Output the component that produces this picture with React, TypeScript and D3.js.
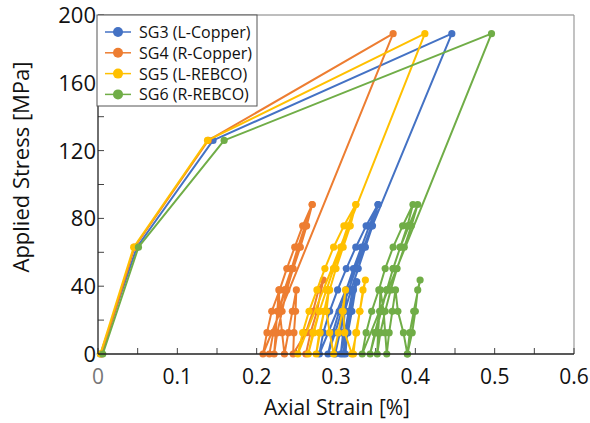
import React from "react";
import * as d3 from "d3";

const W = 590;
const H = 423;

const seriesNames = ["SG3 (L-Copper)", "SG4 (R-Copper)", "SG5 (L-REBCO)", "SG6 (R-REBCO)"];
const seriesColors = ["#4472C4", "#ED7D31", "#FFC000", "#70AD47"];

const xTicks = [0, 0.1, 0.2, 0.3, 0.4, 0.5, 0.6];
const yTicks = [0, 40, 80, 120, 160, 200];

// SG3 (L-Copper)
const sg3Strain = [0.003, 0.049, 0.145, 0.446, 0.279,
  0.284, 0.292, 0.302, 0.313, 0.325, 0.338, 0.353,
  0.345, 0.335, 0.325, 0.316, 0.307, 0.299, 0.290,
  0.296, 0.304, 0.313, 0.322, 0.332, 0.342, 0.353,
  0.346, 0.337, 0.328, 0.319, 0.311, 0.305, 0.299,
  0.304, 0.309, 0.314, 0.311, 0.309, 0.306,
  0.311, 0.316, 0.321, 0.326, 0.320, 0.315, 0.309,
  0.313, 0.318, 0.322, 0.326, 0.318, 0.314, 0.312];
const sg3Stress = [0, 63, 126, 189, 0,
  12.6, 25.2, 37.8, 50.4, 63, 75.6, 88.2,
  75.6, 63, 50.4, 37.8, 25.2, 12.6, 0,
  12.6, 25.2, 37.8, 50.4, 63, 75.6, 88.2,
  75.6, 63, 50.4, 37.8, 25.2, 12.6, 0,
  12.6, 25.2, 37.8, 25.2, 12.6, 0,
  12.6, 25.2, 37.8, 42.5, 25.2, 12.6, 0,
  12.6, 25.2, 37.8, 42.5, 25.2, 12.6, 0];

// SG4 (R-Copper)
const sg4Strain = [0.005, 0.046, 0.139, 0.372, 0.208,
  0.213, 0.219, 0.229, 0.238, 0.248, 0.258, 0.270,
  0.262, 0.253, 0.244, 0.235, 0.228, 0.221, 0.216,
  0.221, 0.228, 0.236, 0.244, 0.252, 0.261, 0.270,
  0.263, 0.255, 0.246, 0.238, 0.232, 0.226, 0.222,
  0.224, 0.226, 0.228, 0.229, 0.232, 0.235,
  0.240, 0.245, 0.250, 0.249, 0.247, 0.246,
  0.262, 0.271, 0.278, 0.284, 0.276, 0.268, 0.262];
const sg4Stress = [0, 63, 126, 189, 0,
  12.6, 25.2, 37.8, 50.4, 63, 75.6, 88.2,
  75.6, 63, 50.4, 37.8, 25.2, 12.6, 0,
  12.6, 25.2, 37.8, 50.4, 63, 75.6, 88.2,
  75.6, 63, 50.4, 37.8, 25.2, 12.6, 0,
  12.6, 25.2, 37.8, 25.2, 12.6, 0,
  12.6, 25.2, 37.8, 25.2, 12.6, 0,
  12.6, 25.2, 37.8, 43.6, 25.2, 12.6, 0];

// SG5 (L-REBCO)
const sg5Strain = [0.003, 0.045, 0.138, 0.412, 0.252,
  0.258, 0.266, 0.276, 0.286, 0.297, 0.310, 0.325,
  0.317, 0.307, 0.297, 0.288, 0.279, 0.272, 0.265,
  0.271, 0.279, 0.288, 0.297, 0.306, 0.315, 0.325,
  0.318, 0.309, 0.300, 0.292, 0.285, 0.279, 0.275,
  0.280, 0.285, 0.291, 0.288, 0.292, 0.297,
  0.303, 0.308, 0.312, 0.309, 0.311, 0.320,
  0.326, 0.330, 0.334, 0.337, 0.330, 0.325, 0.322];
const sg5Stress = [0, 63, 126, 189, 0,
  12.6, 25.2, 37.8, 50.4, 63, 75.6, 88.2,
  75.6, 63, 50.4, 37.8, 25.2, 12.6, 0,
  12.6, 25.2, 37.8, 50.4, 63, 75.6, 88.2,
  75.6, 63, 50.4, 37.8, 25.2, 12.6, 0,
  12.6, 25.2, 37.8, 25.2, 12.6, 0,
  12.6, 25.2, 37.8, 25.2, 12.6, 0,
  12.6, 25.2, 37.8, 43.6, 25.2, 12.6, 0];

// SG6 (R-REBCO)
const sg6Strain = [0.006, 0.051, 0.159, 0.496, 0.333,
  0.338, 0.345, 0.354, 0.362, 0.372, 0.384, 0.397,
  0.390, 0.381, 0.372, 0.364, 0.357, 0.350, 0.343,
  0.349, 0.356, 0.364, 0.372, 0.381, 0.392, 0.403,
  0.395, 0.386, 0.377, 0.369, 0.362, 0.356, 0.352,
  0.353, 0.355, 0.356, 0.360, 0.362, 0.364,
  0.367, 0.371, 0.375, 0.378, 0.385, 0.390,
  0.396, 0.400, 0.403, 0.406, 0.398, 0.393, 0.390];
const sg6Stress = [0, 63, 126, 189, 0,
  12.6, 25.2, 37.8, 50.4, 63, 75.6, 88.2,
  75.6, 63, 50.4, 37.8, 25.2, 12.6, 0,
  12.6, 25.2, 37.8, 50.4, 63, 75.6, 88.2,
  75.6, 63, 50.4, 37.8, 25.2, 12.6, 0,
  12.6, 25.2, 37.8, 25.2, 12.6, 0,
  12.6, 25.2, 37.8, 25.2, 12.6, 0,
  12.6, 25.2, 37.8, 43.6, 25.2, 12.6, 0];

const seriesStrain = [sg3Strain, sg4Strain, sg5Strain, sg6Strain];
const seriesStress = [sg3Stress, sg4Stress, sg5Stress, sg6Stress];

const FONT = "'Open Sans', 'Noto Sans', sans-serif";

export default function App() {
  const left = 98, right = 574, top = 15, bottom = 354;
  const x = d3.scaleLinear().domain([0, 0.6]).range([left, right]);
  const y = d3.scaleLinear().domain([0, 200]).range([bottom, top]);
  const line = d3.line<[number, number]>().x((d) => x(d[0])).y((d) => y(d[1]));

  const xMinor = d3.range(0, 0.6001, 0.05);
  const yMinor = d3.range(0, 200.001, 20);

  const series = seriesNames.map((name, i) => ({
    name,
    color: seriesColors[i],
    pts: seriesStrain[i].map((s, j) => [s, seriesStress[i][j]] as [number, number]),
  }));

  return (
    <svg width={W} height={H} style={{ position: "absolute", left: 0, top: 0, background: "#fff" }} fontFamily={FONT}>
      <rect x={0} y={0} width={W} height={H} fill="#fff" />
      {/* frame */}
      <line x1={left} x2={right} y1={top} y2={top} stroke="#7f7f7f" strokeWidth={1.2} />
      <line x1={right} x2={right} y1={top} y2={bottom} stroke="#9a9a9a" strokeWidth={1.2} />
      {/* ticks */}
      {xMinor.map((t, i) => (
        <line key={"xt" + i} x1={x(t)} x2={x(t)} y1={bottom} y2={bottom - 6} stroke="#444" strokeWidth={1} />
      ))}
      {yMinor.map((t, i) => (
        <line key={"yt" + i} x1={left} x2={left + 6} y1={y(t)} y2={y(t)} stroke="#444" strokeWidth={1} />
      ))}
      {/* series */}
      {series.map((s) => (
        <g key={s.name}>
          <path d={line(s.pts) || ""} fill="none" stroke={s.color} strokeWidth={2} strokeLinejoin="round" />
          {s.pts.map((p, j) => (
            <circle key={j} cx={x(p[0])} cy={y(p[1])} r={3.6} fill={s.color} />
          ))}
        </g>
      ))}
      {/* axes */}
      <line x1={left} x2={right} y1={bottom} y2={bottom} stroke="#222" strokeWidth={1.3} />
      <line x1={left} x2={left} y1={top} y2={bottom} stroke="#222" strokeWidth={1.3} />
      {xTicks.map((t) => (
        <text key={"xl" + t} x={x(t)} y={bottom + 30} textAnchor="middle" fontSize={21} fill={t === 0 ? "#777" : "#111"}>
          {t === 0 ? "0" : d3.format(".1f")(t)}
        </text>
      ))}
      {yTicks.map((t) => (
        <text key={"yl" + t} x={left - 2} y={Math.max(y(t) + 8, 23)} textAnchor="end" fontSize={22} fill="#111">
          {t}
        </text>
      ))}
      <text x={337} y={415} textAnchor="middle" fontSize={21} fill="#111">
        Axial Strain [%]
      </text>
      <text transform={`translate(29,${167}) rotate(-90)`} textAnchor="middle" fontSize={22} fill="#111">
        Applied Stress [MPa]
      </text>
      {/* legend */}
      <rect x={97} y={15} width={160} height={91} fill="#fff" stroke="#555" strokeWidth={1} />
      {series.map((s, i) => {
        const ly = 32 + i * 20.8;
        return (
          <g key={"lg" + i}>
            <line x1={105} x2={131} y1={ly} y2={ly} stroke={s.color} strokeWidth={1.5} />
            <circle cx={118} cy={ly} r={5} fill={s.color} />
            <text x={139} y={ly + 6} fontSize={16} fill="#111">
              {s.name}
            </text>
          </g>
        );
      })}
    </svg>
  );
}
